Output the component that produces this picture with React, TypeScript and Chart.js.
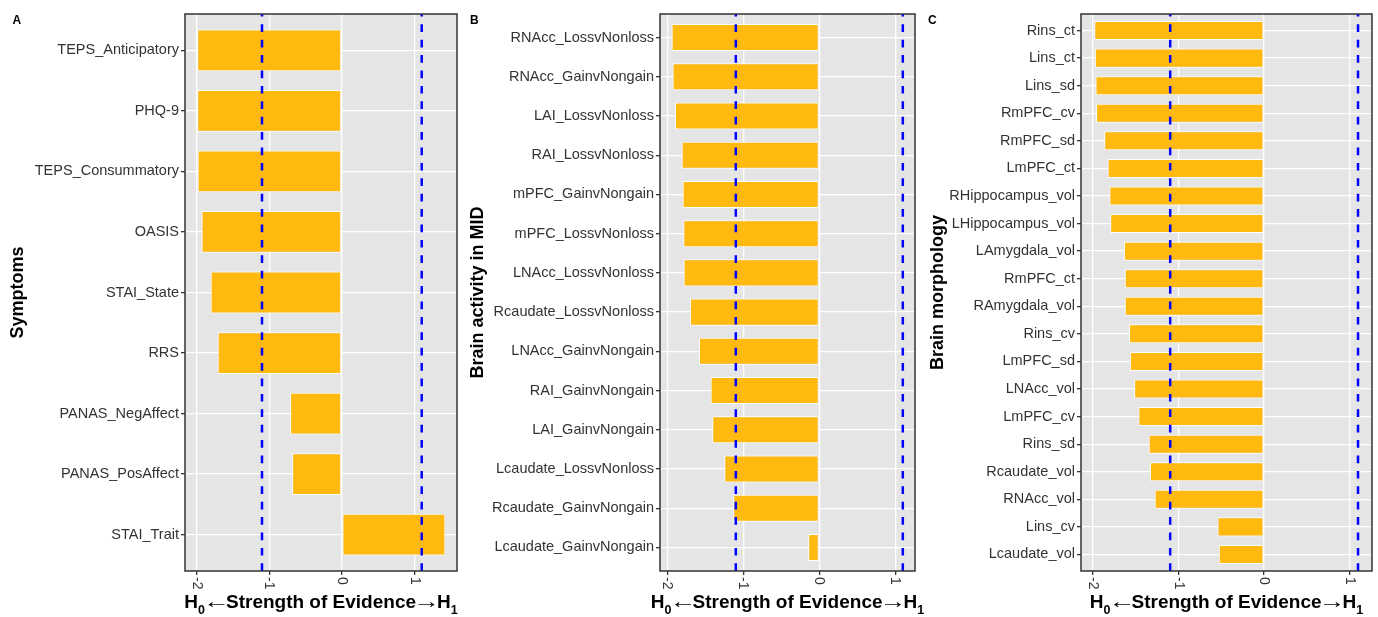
import React, { useEffect, useRef } from "react";
import { Chart, registerables } from "chart.js";

Chart.register(...registerables);

// ---------- data ----------
const symptomLabels = [
  "TEPS_Anticipatory",
  "PHQ-9",
  "TEPS_Consummatory",
  "OASIS",
  "STAI_State",
  "RRS",
  "PANAS_NegAffect",
  "PANAS_PosAffect",
  "STAI_Trait",
];
const symptomValues = [-1.99, -1.99, -1.984, -1.93, -1.805, -1.708, -0.712, -0.684, 1.424];

const midLabels = [
  "RNAcc_LossvNonloss",
  "RNAcc_GainvNongain",
  "LAI_LossvNonloss",
  "RAI_LossvNonloss",
  "mPFC_GainvNongain",
  "mPFC_LossvNonloss",
  "LNAcc_LossvNonloss",
  "Rcaudate_LossvNonloss",
  "LNAcc_GainvNongain",
  "RAI_GainvNongain",
  "LAI_GainvNongain",
  "Lcaudate_LossvNonloss",
  "Rcaudate_GainvNongain",
  "Lcaudate_GainvNongain",
];
const midValues = [-1.943, -1.93, -1.899, -1.811, -1.798, -1.789, -1.785, -1.702, -1.583, -1.43, -1.408, -1.25, -1.132, -0.145];

const morphLabels = [
  "Rins_ct",
  "Lins_ct",
  "Lins_sd",
  "RmPFC_cv",
  "RmPFC_sd",
  "LmPFC_ct",
  "RHippocampus_vol",
  "LHippocampus_vol",
  "LAmygdala_vol",
  "RmPFC_ct",
  "RAmygdala_vol",
  "Rins_cv",
  "LmPFC_sd",
  "LNAcc_vol",
  "LmPFC_cv",
  "Rins_sd",
  "Rcaudate_vol",
  "RNAcc_vol",
  "Lins_cv",
  "Lcaudate_vol",
];
const morphValues = [
  -1.986, -1.98, -1.972, -1.966, -1.87, -1.83, -1.81, -1.80, -1.64, -1.63, -1.63, -1.58, -1.57, -1.52, -1.47, -1.35, -1.335,
  -1.28, -0.545, -0.53,
];

const xTickValues = [-2, -1, 0, 1];
const thresholdValues = [-1.0986, 1.0986];

// ---------- styles ----------
const FAMILY = '"Liberation Sans", Arial, Helvetica, sans-serif';
const BAR = "#FFB90F";
const PANEL_BG = "#E5E5E5";
const TEXT = "#333333";
const H = 617;
const PLOT_TOP = 14;
const PLOT_BOTTOM = 571;

type PanelCfg = {
  tag: string;
  tagX: number;
  yTitle: string;
  labels: string[];
  values: number[];
  left: number;
  width: number;
  plotLeft: number;
  plotRight: number;
  xMin: number;
  xMax: number;
};

const panels: PanelCfg[] = [
  {
    tag: "A",
    tagX: 12.5,
    yTitle: "Symptoms",
    labels: symptomLabels,
    values: symptomValues,
    left: 0,
    width: 470,
    plotLeft: 185,
    plotRight: 457,
    xMin: -2.158,
    xMax: 1.584,
  },
  {
    tag: "B",
    tagX: 10,
    yTitle: "Brain activity in MID",
    labels: midLabels,
    values: midValues,
    left: 460,
    width: 470,
    plotLeft: 200,
    plotRight: 455,
    xMin: -2.096,
    xMax: 1.259,
  },
  {
    tag: "C",
    tagX: 8,
    yTitle: "Brain morphology",
    labels: morphLabels,
    values: morphValues,
    left: 920,
    width: 458,
    plotLeft: 161,
    plotRight: 452,
    xMin: -2.142,
    xMax: 1.262,
  },
];

function makePlugin(cfg: PanelCfg) {
  return {
    id: "panelDeco" + cfg.tag,
    beforeDraw(chart: any) {
      const { ctx, chartArea: a } = chart;
      ctx.save();
      ctx.fillStyle = PANEL_BG;
      ctx.fillRect(a.left, a.top, a.right - a.left, a.bottom - a.top);
      ctx.restore();
    },
    afterDatasetsDraw(chart: any) {
      const { ctx, chartArea: a } = chart;
      const xs = chart.scales.x;
      ctx.save();
      ctx.beginPath();
      ctx.rect(a.left, a.top, a.right - a.left, a.bottom - a.top);
      ctx.clip();
      ctx.strokeStyle = "#0000FF";
      ctx.lineWidth = 2.5;
      ctx.setLineDash([7.7, 7.7]);
      for (const v of thresholdValues) {
        const px = xs.getPixelForValue(v);
        ctx.beginPath();
        ctx.moveTo(px, a.bottom);
        ctx.lineTo(px, a.top);
        ctx.stroke();
      }
      ctx.restore();
    },
    afterDraw(chart: any) {
      const { ctx, chartArea: a } = chart;
      const xs = chart.scales.x;
      ctx.save();
      // panel border
      ctx.strokeStyle = TEXT;
      ctx.lineWidth = 1.5;
      ctx.strokeRect(a.left, a.top, a.right - a.left, a.bottom - a.top);

      // x tick labels, rotated clockwise
      ctx.fillStyle = TEXT;
      ctx.font = `14px ${FAMILY}`;
      ctx.textAlign = "left";
      ctx.textBaseline = "middle";
      for (const v of xTickValues) {
        const px = xs.getPixelForValue(v);
        ctx.save();
        ctx.translate(px, a.bottom + 6);
        ctx.rotate(Math.PI / 2);
        ctx.fillText(String(v), 0, 0);
        ctx.restore();
      }

      // y axis title
      ctx.fillStyle = "#000";
      ctx.font = `bold 18px ${FAMILY}`;
      ctx.textAlign = "center";
      ctx.textBaseline = "middle";
      ctx.save();
      ctx.translate(18.5, (a.top + a.bottom) / 2);
      ctx.rotate(-Math.PI / 2);
      ctx.fillText(cfg.yTitle, 0, 0);
      ctx.restore();

      // x axis title with subscripts; arrows stretched to a fixed width
      const big = `bold 19px ${FAMILY}`;
      const small = `bold 12.5px ${FAMILY}`;
      const arrowFont = `bold 20px ${FAMILY}`;
      const parts = [
        { t: "H", f: big, dy: 0, gap: 0, target: 0 },
        { t: "0", f: small, dy: 5.5, gap: -2, target: 0 },
        { t: "\u2190", f: arrowFont, dy: 0, gap: -4, target: 27 },
        { t: "Strength of Evidence", f: big, dy: 0, gap: -3, target: 0 },
        { t: "\u2192", f: arrowFont, dy: 0, gap: -3, target: 27 },
        { t: "H", f: big, dy: 0, gap: 0, target: 0 },
        { t: "1", f: small, dy: 5.5, gap: 0, target: 0 },
      ];
      let total = 0;
      const widths: number[] = [];
      const natural: number[] = [];
      for (const p of parts) {
        ctx.font = p.f;
        const w = ctx.measureText(p.t).width;
        natural.push(w);
        const used = p.target > 0 ? p.target : w;
        widths.push(used);
        total += used + p.gap;
      }
      let cx = (a.left + a.right) / 2 - total / 2;
      ctx.textAlign = "left";
      ctx.textBaseline = "alphabetic";
      parts.forEach((p, i) => {
        ctx.font = p.f;
        if (p.target > 0) {
          ctx.save();
          ctx.translate(cx, 608 + p.dy);
          ctx.scale(p.target / natural[i], 1);
          ctx.fillText(p.t, 0, 0);
          ctx.restore();
        } else {
          ctx.fillText(p.t, cx, 608 + p.dy);
        }
        cx += widths[i] + p.gap;
      });

      // panel tag
      ctx.font = `bold 12px ${FAMILY}`;
      ctx.fillText(cfg.tag, cfg.tagX, 24);
      ctx.restore();
    },
  };
}

function Panel({ cfg }: { cfg: PanelCfg }) {
  const ref = useRef<HTMLCanvasElement | null>(null);
  useEffect(() => {
    if (!ref.current) return;
    const n = cfg.labels.length;
    const chart = new Chart(ref.current, {
      type: "bar",
      data: {
        datasets: [
          {
            data: cfg.values.map((v, i) => ({ x: v, y: i })),
            backgroundColor: BAR,
            borderColor: "#FFFFFF",
            borderWidth: 1,
            borderSkipped: false,
            barPercentage: 0.69,
            categoryPercentage: 1,
          } as any,
        ],
      },
      options: {
        indexAxis: "y",
        responsive: false,
        maintainAspectRatio: false,
        animation: false,
        events: [],
        layout: {
          padding: { left: 0, right: cfg.width - cfg.plotRight, top: PLOT_TOP, bottom: 0 },
        },
        plugins: {
          legend: { display: false },
          tooltip: { enabled: false },
          title: { display: false },
        },
        scales: {
          x: {
            type: "linear",
            min: cfg.xMin,
            max: cfg.xMax,
            offset: false,
            afterBuildTicks: (s: any) => {
              s.ticks = xTickValues.map((v) => ({ value: v }));
            },
            afterFit: (s: any) => {
              s.height = H - PLOT_BOTTOM;
            },
            grid: {
              offset: false,
              color: "#FFFFFF",
              lineWidth: 1.3,
              drawTicks: true,
              tickLength: 4,
              tickColor: TEXT,
              tickWidth: 1.3,
            },
            border: { display: false },
            ticks: { display: false },
          },
          y: {
            type: "linear",
            reverse: true,
            offset: false,
            min: -0.6,
            max: n - 1 + 0.6,
            afterBuildTicks: (s: any) => {
              s.ticks = cfg.labels.map((_, i) => ({ value: i }));
            },
            afterFit: (s: any) => {
              s.width = cfg.plotLeft;
            },
            grid: {
              offset: false,
              color: "#FFFFFF",
              lineWidth: 1.3,
              drawTicks: true,
              tickLength: 4,
              tickColor: TEXT,
              tickWidth: 1.3,
            },
            border: { display: false },
            ticks: {
              autoSkip: false,
              padding: 2,
              color: TEXT,
              font: { family: FAMILY, size: 14.5 },
              callback: (v: any) => cfg.labels[Math.round(Number(v))] ?? "",
            },
          },
        },
      } as any,
      plugins: [makePlugin(cfg)],
    });
    return () => chart.destroy();
  }, [cfg]);
  return (
    <canvas
      ref={ref}
      width={cfg.width}
      height={H}
      style={{ position: "absolute", left: cfg.left, top: 0, width: cfg.width, height: H }}
    />
  );
}

export default function App() {
  return (
    <div style={{ position: "absolute", left: 0, top: 0, width: 1378, height: H, background: "#FFFFFF", overflow: "hidden" }}>
      {panels.map((p) => (
        <Panel key={p.tag} cfg={p} />
      ))}
    </div>
  );
}
